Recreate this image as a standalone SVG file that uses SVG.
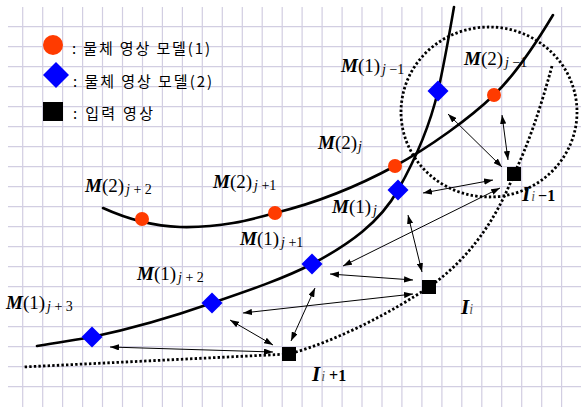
<svg xmlns="http://www.w3.org/2000/svg" xmlns:xlink="http://www.w3.org/1999/xlink" width="581" height="407" viewBox="0 0 581 407">
<style>
.grid{stroke:#d2cee2;stroke-width:1.2;fill:none}
.curve{fill:none;stroke:#000;stroke-width:2.6;stroke-linecap:round}
.dot{fill:none;stroke:#000;stroke-width:2.8;stroke-dasharray:2.4 2.2}
.arr{fill:none;stroke:#000;stroke-width:1;marker-start:url(#ah);marker-end:url(#ah)}
.red{fill:#ff3b00}
.blue{fill:#0000ff}
.blk{fill:#000}
.leg{font-family:"Noto Sans CJK KR","Noto Sans",sans-serif;font-size:15px;fill:#000}
.lab{font-family:"Liberation Serif","DejaVu Serif",serif;font-size:19px;fill:#000}
.mi{font-style:italic;font-weight:bold}
.sub{font-size:14px}
.si{font-style:italic}
.ii{font-style:italic;font-size:14px;fill:#555}
.ib{font-weight:bold;font-size:16px}
</style>
<defs>
<marker id="ah" viewBox="0 0 10 7" refX="10" refY="3.5" markerWidth="9" markerHeight="6.3" orient="auto-start-reverse" markerUnits="userSpaceOnUse">
<path d="M0,0 L10,3.5 L0,7 z" fill="#000"/>
</marker>
<polygon id="dia" points="0,-10.5 10.5,0 0,10.5 -10.5,0"/>
<circle id="cir" r="7"/>
<rect id="sq" x="-7" y="-7" width="14" height="14"/>
</defs>
<rect width="581" height="407" fill="#fff"/>
<g id="grid" class="grid">
<path d="M22.7,7V407M42.7,7V407M62.6,7V407M82.6,7V407M102.5,7V407M122.5,7V407M142.5,7V407M162.4,7V407M182.4,7V407M202.3,7V407M222.3,7V407M242.3,7V407M262.2,7V407M282.2,7V407M302.1,7V407M322.1,7V407M342.1,7V407M362,7V407M382,7V407M401.9,7V407M421.9,7V407M441.9,7V407M461.8,7V407M481.8,7V407M501.7,7V407M521.7,7V407M541.7,7V407M561.6,7V407"/>
<path d="M8,26.7H581M8,46.7H581M8,66.7H581M8,86.7H581M8,106.7H581M8,126.7H581M8,146.7H581M8,166.7H581M8,186.7H581M8,206.7H581M8,226.7H581M8,246.7H581M8,266.7H581M8,286.7H581M8,306.7H581M8,326.7H581M8,346.7H581M8,366.7H581M8,386.7H581"/>
</g>
<g id="legend">
<circle cx="53" cy="45" r="10" class="red"/>
<text x="72" y="54" class="leg" textLength="138" lengthAdjust="spacing">: 물체 영상 모델(1)</text>
<polygon points="56,62 69,75 56,88 43,75" class="blue"/>
<text x="73" y="87" class="leg" textLength="139" lengthAdjust="spacing">: 물체 영상 모델(2)</text>
<rect x="43" y="102" width="20" height="19" class="blk"/>
<text x="73" y="119" class="leg" textLength="80" lengthAdjust="spacing">: 입력 영상</text>
</g>
<g id="connectors">
<path class="curve" d="M103,208 C125,218 150,226 180,227 C220,228 250,220 275,213 C320,202 360,185 395,166 C430,147 470,118 494,95 C515,75 535,45 553,15"/>
<path class="curve" d="M37,346 C60,342 75,340 92,337 C135,328 175,316 212,303 C250,290 285,278 312,264 C350,244 380,222 398,190 C415,160 430,125 438,91 C445,60 450,30 454,7"/>
<ellipse class="dot" cx="489" cy="112" rx="88" ry="85"/>
<path class="dot" d="M552,66 C540,110 528,145 514,174 C500,210 475,255 429,287 C395,310 340,340 289,354 L23,367"/>
<line class="arr" x1="448" y1="114" x2="502" y2="167"/>
<line class="arr" x1="502" y1="115" x2="508" y2="160"/>
<line class="arr" x1="423" y1="193" x2="493" y2="180"/>
<line class="arr" x1="343" y1="266" x2="500" y2="188"/>
<line class="arr" x1="408" y1="215" x2="422" y2="272"/>
<line class="arr" x1="330" y1="274" x2="413" y2="280"/>
<line class="arr" x1="243" y1="313" x2="413" y2="294"/>
<line class="arr" x1="315" y1="288" x2="291" y2="341"/>
<line class="arr" x1="230" y1="320" x2="273" y2="345"/>
<line class="arr" x1="110" y1="347" x2="273" y2="352"/>
</g>
<g id="m2-j+2"><use href="#cir" x="142" y="219" class="red"/>
<text class="lab" x="85" y="192"><tspan class="mi">M</tspan>(2)<tspan class="sub" dx="2" dy="2"><tspan class="si">j</tspan> + 2</tspan></text></g>
<g id="m2-j+1"><use href="#cir" x="275" y="213" class="red"/>
<text class="lab" x="213" y="188"><tspan class="mi">M</tspan>(2)<tspan class="sub" dx="2" dy="2"><tspan class="si">j</tspan> +1</tspan></text></g>
<g id="m2-j"><use href="#cir" x="395" y="166" class="red"/>
<text class="lab" x="318" y="149"><tspan class="mi">M</tspan>(2)<tspan class="sub" dx="1" dy="2"><tspan class="si">j</tspan></tspan></text></g>
<g id="m2-j-1"><use href="#cir" x="494" y="95" class="red"/>
<text class="lab" x="464" y="65"><tspan class="mi">M</tspan>(2)<tspan class="sub" dx="2" dy="2"><tspan class="si">j</tspan> −1</tspan></text></g>
<g id="m1-j+3"><use href="#dia" x="92" y="337" class="blue"/>
<text class="lab" x="6" y="309"><tspan class="mi">M</tspan>(1)<tspan class="sub" dx="2" dy="2"><tspan class="si">j</tspan> + 3</tspan></text></g>
<g id="m1-j+2"><use href="#dia" x="212" y="303" class="blue"/>
<text class="lab" x="137" y="280"><tspan class="mi">M</tspan>(1)<tspan class="sub" dx="2" dy="2"><tspan class="si">j</tspan> + 2</tspan></text></g>
<g id="m1-j+1"><use href="#dia" x="312" y="264" class="blue"/>
<text class="lab" x="240" y="245"><tspan class="mi">M</tspan>(1)<tspan class="sub" dx="2" dy="2"><tspan class="si">j</tspan> +1</tspan></text></g>
<g id="m1-j"><use href="#dia" x="398" y="190" class="blue"/>
<text class="lab" x="332" y="213"><tspan class="mi">M</tspan>(1)<tspan class="sub" dx="2" dy="2"><tspan class="si">j</tspan></tspan></text></g>
<g id="m1-j-1"><use href="#dia" x="438" y="91" class="blue"/>
<text class="lab" x="341" y="72"><tspan class="mi">M</tspan>(1)<tspan class="sub" dx="2" dy="2"><tspan class="si">j</tspan> −1</tspan></text></g>
<g id="i-1"><use href="#sq" x="514" y="174" class="blk"/>
<text class="lab" x="522" y="201"><tspan class="mi" font-size="21">I</tspan><tspan class="ii" dx="1">i</tspan><tspan class="ib" dx="3">−1</tspan></text></g>
<g id="i"><use href="#sq" x="429" y="287" class="blk"/>
<text class="lab" x="461" y="314"><tspan class="mi" font-size="21">I</tspan><tspan class="ii">i</tspan></text></g>
<g id="i+1"><use href="#sq" x="289" y="354" class="blk"/>
<text class="lab" x="312" y="381"><tspan class="mi" font-size="21">I</tspan><tspan class="ii" dx="1">i</tspan><tspan class="ib" dx="4">+1</tspan></text></g>
</svg>
